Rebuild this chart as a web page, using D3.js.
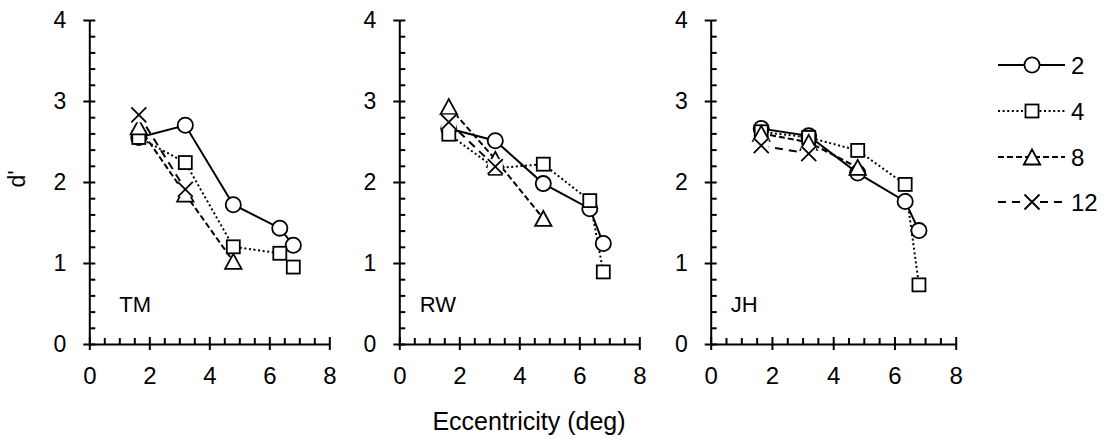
<!DOCTYPE html>
<html>
<head>
<meta charset="utf-8">
<script src="https://cdn.jsdelivr.net/npm/d3@7/dist/d3.min.js"></script>
<style>
  html, body { margin: 0; padding: 0; background: #fff; }
  svg { display: block; }
  text { font-family: "Liberation Sans", Arial, sans-serif; fill: #000; }
</style>
</head>
<body>
<svg id="chart" width="1104" height="439"></svg>
<script>
// ---------------- data ----------------
const eccentricity = [1.65, 3.2, 4.8, 6.35, 6.8];
const subjects = ["TM", "RW", "JH"];
const seriesNames = ["2", "4", "8", "12"];
const xTicks = [0, 2, 4, 6, 8];
const yTicks = [0, 1, 2, 3, 4];

const TM_2  = [2.55, 2.70, 1.72, 1.43, 1.22];
const TM_4  = [2.55, 2.24, 1.20, 1.12, 0.95];
const TM_8  = [2.68, 1.85, 1.02];
const TM_12 = [2.83, 1.91];

const RW_2  = [2.66, 2.51, 1.98, 1.67, 1.24];
const RW_4  = [2.59, 2.17, 2.22, 1.77, 0.89];
const RW_8  = [2.93, 2.28, 1.55];
const RW_12 = [2.74, 2.19];

const JH_2  = [2.66, 2.57, 2.11, 1.76, 1.40];
const JH_4  = [2.62, 2.55, 2.39, 1.97, 0.73];
const JH_8  = [2.60, 2.49, 2.18];
const JH_12 = [2.45, 2.35];

const dataBySubject = {
  TM: [TM_2, TM_4, TM_8, TM_12],
  RW: [RW_2, RW_4, RW_8, RW_12],
  JH: [JH_2, JH_4, JH_8, JH_12]
};

// ---------------- layout / style ----------------
const panelRanges = [[89.3, 329.3], [399.3, 639.3], [710.7, 955.7]];
const yRange = [344, 20];
const labelOffsets = [30, 20.5, 20];
const FONT = "Liberation Sans, Arial, sans-serif";
const styles = {
  "2":  { dash: null,  marker: "circle" },
  "4":  { dash: "2,2.6", marker: "square" },
  "8":  { dash: "6,3", marker: "triangle" },
  "12": { dash: "8,6", marker: "x" }
};

const svg = d3.select("#chart");
const y = d3.scaleLinear().domain([0, 4]).range(yRange);
const yMinor = d3.range(0, 4.001, 0.2).filter(v => Math.abs(v - Math.round(v)) > 1e-6);
const xMinor = d3.range(0, 8.001, 0.5).filter(v => Math.abs(v / 2 - Math.round(v / 2)) > 1e-6);

function drawMarker(g, type, cx, cy) {
  const sw = 1.8;
  if (type === "circle") {
    g.append("circle").attr("cx", cx).attr("cy", cy).attr("r", 7.6)
      .attr("fill", "#fff").attr("stroke", "#000").attr("stroke-width", sw);
  } else if (type === "square") {
    g.append("rect").attr("x", cx - 6.5).attr("y", cy - 6.5).attr("width", 13).attr("height", 13)
      .attr("fill", "#fff").attr("stroke", "#000").attr("stroke-width", sw);
  } else if (type === "triangle") {
    g.append("path").attr("d", `M${cx},${cy - 7.5}L${cx + 8.2},${cy + 7.5}L${cx - 8.2},${cy + 7.5}Z`)
      .attr("fill", "#fff").attr("stroke", "#000").attr("stroke-width", sw).attr("stroke-linejoin", "miter");
  } else if (type === "x") {
    const s = 7.5;
    g.append("rect").attr("x", cx - s).attr("y", cy - s).attr("width", 2 * s).attr("height", 2 * s)
      .attr("fill", "#fff");
    g.append("path").attr("d", `M${cx - s},${cy - s}L${cx + s},${cy + s}M${cx + s},${cy - s}L${cx - s},${cy + s}`)
      .attr("stroke", "#000").attr("stroke-width", sw).attr("fill", "none");
  }
}

subjects.forEach((subj, pi) => {
  const x = d3.scaleLinear().domain([0, 8]).range(panelRanges[pi]);
  const g = svg.append("g");

  // Y axis
  const yAxisG = g.append("g").attr("transform", `translate(${x(0)},0)`);
  yAxisG.call(d3.axisLeft(y).tickValues(yTicks).tickFormat(d3.format("d"))
      .tickSizeInner(6).tickSizeOuter(0).tickPadding(17));
  yAxisG.append("g").call(d3.axisRight(y).tickValues(yTicks).tickFormat("").tickSizeInner(6).tickSizeOuter(0))
    .select(".domain").remove();
  yAxisG.append("g").call(d3.axisRight(y).tickValues(yMinor).tickFormat("").tickSizeInner(6).tickSizeOuter(0))
    .select(".domain").remove();

  // X axis
  const xAxisG = g.append("g").attr("transform", `translate(0,${y(0)})`);
  xAxisG.call(d3.axisBottom(x).tickValues(xTicks).tickFormat(d3.format("d"))
      .tickSizeInner(6).tickSizeOuter(0).tickPadding(17));
  xAxisG.append("g").call(d3.axisTop(x).tickValues(xTicks).tickFormat("").tickSizeInner(7).tickSizeOuter(0))
    .select(".domain").remove();
  xAxisG.append("g").call(d3.axisTop(x).tickValues(xMinor).tickFormat("").tickSizeInner(6).tickSizeOuter(0))
    .select(".domain").remove();

  g.selectAll(".domain").attr("stroke", "#000").attr("stroke-width", 2);
  g.selectAll(".tick line").attr("stroke", "#000").attr("stroke-width", 2);
  yAxisG.selectAll(".tick text").attr("font-size", 23).attr("font-family", FONT);
  xAxisG.selectAll(".tick text").attr("font-size", 24).attr("font-family", FONT);

  // lines
  const series = dataBySubject[subj];
  const line = d3.line().x((d, i) => x(eccentricity[i])).y(d => y(d));
  series.forEach((vals, si) => {
    const st = styles[seriesNames[si]];
    g.append("path").datum(vals).attr("d", line)
      .attr("fill", "none").attr("stroke", "#000").attr("stroke-width", 2)
      .attr("stroke-dasharray", st.dash);
  });
  // markers
  series.forEach((vals, si) => {
    const st = styles[seriesNames[si]];
    const mg = g.append("g");
    vals.forEach((v, i) => drawMarker(mg, st.marker, x(eccentricity[i]), y(v)));
  });

  // subject label
  g.append("text").attr("x", x(0) + labelOffsets[pi]).attr("y", 312)
    .attr("font-size", 22).text(subj);
});

// Legend
const legendY = [65, 111, 157, 202];
seriesNames.forEach((name, i) => {
  const st = styles[name];
  const lg = svg.append("g");
  lg.append("line").attr("x1", 998).attr("x2", 1065).attr("y1", legendY[i]).attr("y2", legendY[i])
    .attr("stroke", "#000").attr("stroke-width", 2).attr("stroke-dasharray", st.dash);
  drawMarker(lg, st.marker, 1032, legendY[i]);
  lg.append("text").attr("x", 1071).attr("y", legendY[i]).attr("dy", "0.36em")
    .attr("font-size", 24).text(name);
});

// Axis titles
svg.append("text").attr("x", 529).attr("y", 430).attr("text-anchor", "middle")
  .attr("font-size", 25).text("Eccentricity (deg)");
svg.append("text").attr("transform", "translate(25,179) rotate(-90)").attr("text-anchor", "middle")
  .attr("font-size", 23).text("d'");
</script>
</body>
</html>
